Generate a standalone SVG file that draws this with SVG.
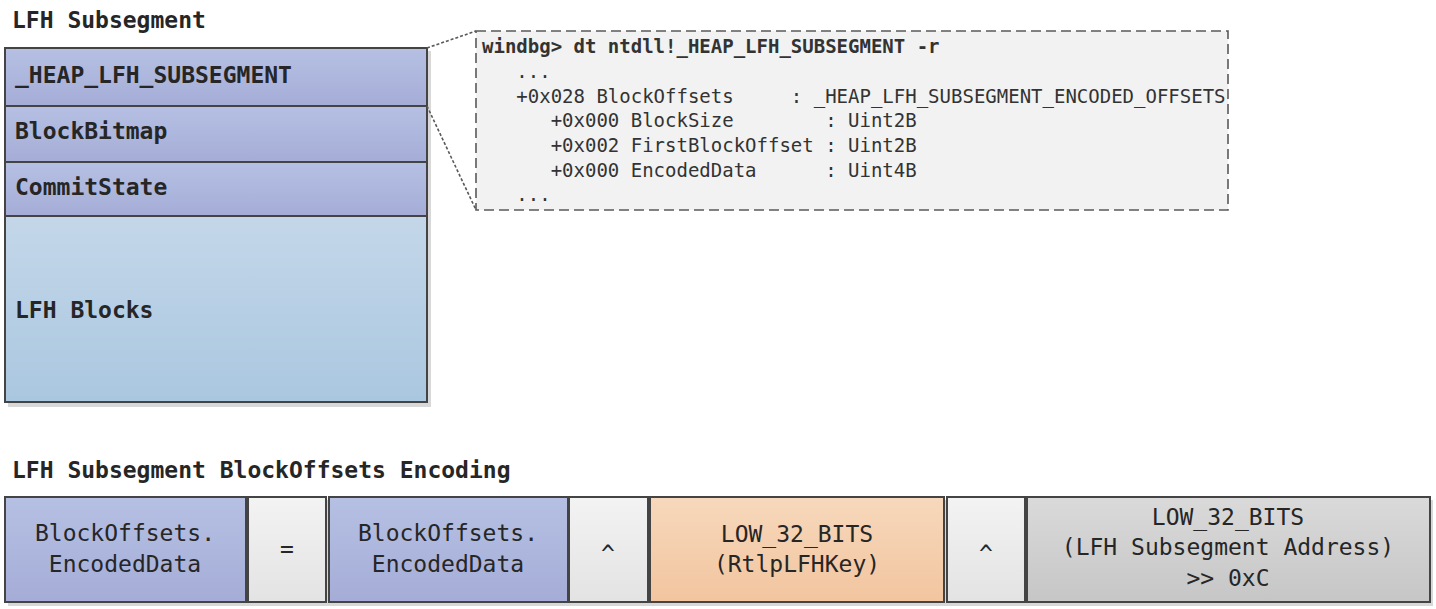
<svg xmlns="http://www.w3.org/2000/svg" width="1436" height="609" viewBox="0 0 1436 609">
<defs>
<linearGradient id="gPurple" x1="0" y1="0" x2="0" y2="1"><stop offset="0" stop-color="#b6c0e3"/><stop offset="1" stop-color="#a5add7"/></linearGradient>
<linearGradient id="gBlue" x1="0" y1="0" x2="0" y2="1"><stop offset="0" stop-color="#c4d7e9"/><stop offset="1" stop-color="#aac7e0"/></linearGradient>
<linearGradient id="gOrange" x1="0" y1="0" x2="0" y2="1"><stop offset="0" stop-color="#f7d8bc"/><stop offset="1" stop-color="#f2c59f"/></linearGradient>
<linearGradient id="gGray" x1="0" y1="0" x2="0" y2="1"><stop offset="0" stop-color="#dadada"/><stop offset="1" stop-color="#c6c6c6"/></linearGradient>
<linearGradient id="gLight" x1="0" y1="0" x2="0" y2="1"><stop offset="0" stop-color="#f3f3f3"/><stop offset="1" stop-color="#e3e3e3"/></linearGradient>
</defs>
<style>
.box{stroke:#444;stroke-width:2}
.shadow{fill:#d8d8d8}
.t{font-family:"DejaVu Sans Mono","Liberation Mono",monospace;font-size:23px;fill:#262626}
.b{font-weight:bold}
.c{text-anchor:middle}
.code{font-family:"DejaVu Sans Mono","Liberation Mono",monospace;font-size:19px;fill:#333;white-space:pre}
.dash{fill:#f2f2f2;stroke:#595959;stroke-width:1.6;stroke-dasharray:10 5}
.dot{fill:none;stroke:#595959;stroke-width:1.6;stroke-dasharray:3 2}
</style>

<text class="t b" x="12" y="28">LFH Subsegment</text>
<text class="t b" x="12" y="478">LFH Subsegment BlockOffsets Encoding</text>

<g id="subsegment">
<rect class="shadow" x="8" y="51" width="423" height="356"/>
<g id="heap_lfh_subsegment"><rect class="box" x="5" y="48" width="422" height="58" fill="url(#gPurple)"/><text class="t b" x="15" y="83">_HEAP_LFH_SUBSEGMENT</text></g>
<g id="blockbitmap"><rect class="box" x="5" y="106" width="422" height="56" fill="url(#gPurple)"/><text class="t b" x="15" y="139">BlockBitmap</text></g>
<g id="commitstate"><rect class="box" x="5" y="162" width="422" height="54" fill="url(#gPurple)"/><text class="t b" x="15" y="195">CommitState</text></g>
<g id="lfh_blocks"><rect class="box" x="5" y="216" width="422" height="186" fill="url(#gBlue)"/><text class="t b" x="15" y="318">LFH Blocks</text></g>
</g>

<g id="connectors">
<line class="dot" x1="427" y1="48" x2="476" y2="31"/>
<line class="dot" x1="427" y1="106" x2="476" y2="210"/>
</g>

<g id="windbg">
<rect class="dash" x="476" y="31" width="752" height="179"/>
<text class="code" font-weight="bold" x="482" y="53">windbg&gt; dt ntdll!_HEAP_LFH_SUBSEGMENT -r</text>
<text class="code" x="482" y="78">   ...</text>
<text class="code" x="482" y="103">   +0x028 BlockOffsets     : _HEAP_LFH_SUBSEGMENT_ENCODED_OFFSETS</text>
<text class="code" x="482" y="127">      +0x000 BlockSize        : Uint2B</text>
<text class="code" x="482" y="152">      +0x002 FirstBlockOffset : Uint2B</text>
<text class="code" x="482" y="177">      +0x000 EncodedData      : Uint4B</text>
<text class="code" x="482" y="201">   ...</text>
</g>

<rect class="shadow" x="8" y="500" width="1425" height="106"/>
<g id="enc1"><rect class="box" x="5" y="497" width="241" height="105" fill="url(#gPurple)"/><text class="t c" x="125" y="541">BlockOffsets.</text><text class="t c" x="125" y="572">EncodedData</text></g>
<g id="eq"><rect class="box" x="248" y="497" width="78" height="105" fill="url(#gLight)"/><text class="t c" x="287" y="557">=</text></g>
<g id="enc2"><rect class="box" x="329" y="497" width="239" height="105" fill="url(#gPurple)"/><text class="t c" x="448" y="541">BlockOffsets.</text><text class="t c" x="448" y="572">EncodedData</text></g>
<g id="xor1"><rect class="box" x="569" y="497" width="79" height="105" fill="url(#gLight)"/><text class="t c" x="608" y="562">^</text></g>
<g id="key"><rect class="box" x="650" y="497" width="294" height="105" fill="url(#gOrange)"/><text class="t c" x="797" y="542">LOW_32_BITS</text><text class="t c" x="797" y="572">(RtlpLFHKey)</text></g>
<g id="xor2"><rect class="box" x="947" y="497" width="78" height="105" fill="url(#gLight)"/><text class="t c" x="986" y="562">^</text></g>
<g id="addr"><rect class="box" x="1027" y="497" width="403" height="105" fill="url(#gGray)"/><text class="t c" x="1228" y="525">LOW_32_BITS</text><text class="t c" x="1228" y="555">(LFH Subsegment Address)</text><text class="t c" x="1228" y="586">&gt;&gt; 0xC</text></g>
</svg>
